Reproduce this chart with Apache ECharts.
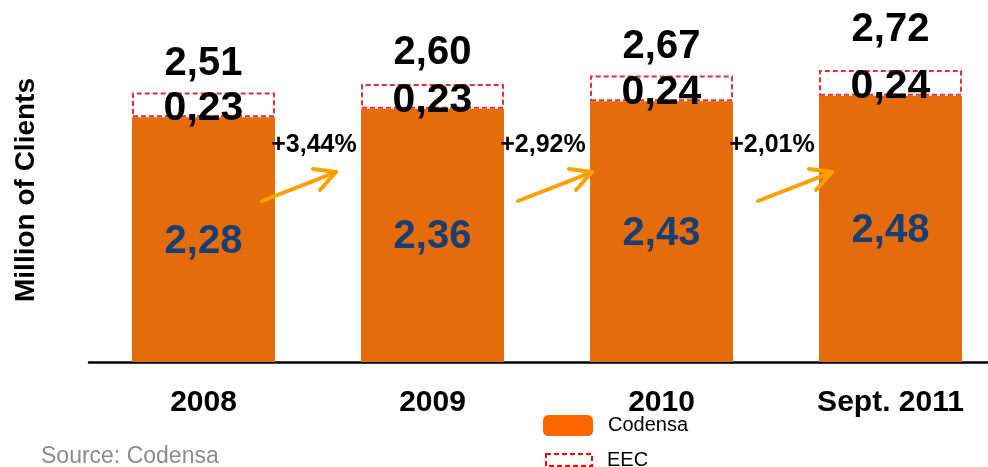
<!DOCTYPE html>
<html>
<head>
<meta charset="utf-8">
<title>Million of Clients</title>
<script src="https://cdn.jsdelivr.net/npm/echarts@6/dist/echarts.min.js"></script>
<style>
  html, body { margin: 0; padding: 0; background: #fff; }
  #chart { width: 988px; height: 467px; }
</style>
</head>
<body>
<div id="chart"></div>
<script>
  // values (millions of clients)
  const years = ['2008', '2009', '2010', 'Sept. 2011']
  const codensa = [2.28, 2.36, 2.43, 2.48]
  const eec = [0.23, 0.23, 0.24, 0.24]
  const totals = [2.51, 2.60, 2.67, 2.72]
  const growth = ['+3,44%', '+2,92%', '+2,01%']

  // label nudges (layout only)
  const totalLift = [0, 1, -1, 11]
  const arrowShift = [-56, -29, -18]

  const fmt = v => v.toFixed(2).replace('.', ',')
  const font = '"Liberation Sans", Arial, sans-serif'

  const chart = echarts.init(document.getElementById('chart'))

  const totalLabel = {
    show: true,
    position: 'top',
    formatter: p => fmt(p.value),
    fontSize: 40,
    fontWeight: 'bold',
    color: '#000',
    fontFamily: font
  }

  const legendText = { fontSize: 20, color: '#000', fontFamily: font, padding: [0, 0, 0, 10] }

  const option = {
    animation: false,
    textStyle: { fontFamily: font },
    title: {
      text: 'Source: Codensa',
      left: 36,
      top: 440,
      textStyle: { fontSize: 23, fontWeight: 'normal', color: '#8c8c8c', fontFamily: font }
    },
    legend: [
      {
        left: 543,
        top: 415,
        padding: 0,
        itemWidth: 50,
        itemHeight: 21,
        textStyle: legendText,
        data: [{ name: 'Codensa', icon: 'roundRect', itemStyle: { color: '#ff6600' } }]
      },
      {
        left: 545,
        top: 450,
        padding: 0,
        itemWidth: 46,
        itemHeight: 12,
        textStyle: legendText,
        data: [{ name: 'EEC', icon: 'rect', itemStyle: { color: '#fff', borderColor: '#ff0000', borderWidth: 2, borderType: [5, 3] } }]
      }
    ],
    grid: { left: 89, width: 916, top: 40, bottom: 105, outerBoundsMode: 'none', containLabel: false },
    xAxis: {
      type: 'category',
      data: years,
      axisLine: { lineStyle: { color: '#000', width: 2.5 } },
      axisTick: { show: false },
      axisLabel: { fontSize: 30, fontWeight: 'bold', color: '#000', margin: 26, fontFamily: font }
    },
    yAxis: {
      type: 'value',
      min: 0,
      max: 3,
      show: false
    },
    series: [
      {
        name: 'Total',
        type: 'bar',
        barWidth: 143,
        barGap: '-100%',
        itemStyle: { color: 'transparent' },
        data: totals.map((v, i) => ({
          value: v,
          label: Object.assign({}, totalLabel, { distance: 9 + totalLift[i] })
        })),
        label: totalLabel,
        silent: true,
        z: 1
      },
      {
        name: 'Codensa',
        type: 'bar',
        stack: 'clients',
        barWidth: 143,
        data: codensa,
        itemStyle: { color: '#e46c0a' },
        label: {
          show: true,
          position: 'inside',
          offset: [0, 2],
          formatter: p => fmt(p.value),
          fontSize: 40,
          fontWeight: 'bold',
          color: '#173f73',
          fontFamily: font
        },
        z: 2
      },
      {
        name: 'EEC',
        type: 'bar',
        stack: 'clients',
        barWidth: 143,
        data: eec,
        itemStyle: { color: '#fff', borderColor: '#e03232', borderWidth: 2, borderType: [5, 3] },
        label: {
          show: true,
          position: 'inside',
          offset: [0, 4],
          formatter: p => fmt(p.value),
          fontSize: 41,
          fontWeight: 'bold',
          color: '#000',
          fontFamily: font
        },
        z: 3
      }
    ]
  }

  chart.setOption(option)

  // growth arrows and percentages between bars
  const px = (cat, val) => chart.convertToPixel({ xAxisIndex: 0, yAxisIndex: 0 }, [cat, val])
  const graphics = []
  growth.forEach((g, i) => {
    const a = px(i, 0)
    const b = px(i + 1, 0)
    const mid = (a[0] + b[0]) / 2
    const yText = px(0, 2.02)[1]
    const yTail = px(0, 1.5)[1]
    const yHead = px(0, 1.77)[1]
    const tx = mid + arrowShift[i]
    const hx = tx + 74
    graphics.push({
      type: 'text',
      x: mid - 4,
      y: yText,
      style: {
        text: g,
        fontSize: 25,
        fontWeight: 'bold',
        fill: '#000',
        fontFamily: font,
        align: 'center',
        verticalAlign: 'middle'
      },
      z: 10
    })
    const arrowStyle = { stroke: '#ffa000', lineWidth: 4, lineCap: 'round' }
    graphics.push({
      type: 'polyline',
      shape: { points: [[tx, yTail], [hx, yHead]] },
      style: arrowStyle,
      z: 10
    })
    graphics.push({
      type: 'polyline',
      shape: { points: [[hx - 23, yHead - 3], [hx, yHead], [hx - 16, yHead + 18]] },
      style: Object.assign({ fill: 'none', lineJoin: 'round' }, arrowStyle),
      z: 10
    })
  })

  graphics.push({
    type: 'text',
    x: 26,
    y: 190,
    rotation: Math.PI / 2,
    style: {
      text: 'Million of Clients',
      fontSize: 28,
      fontWeight: 'bold',
      fill: '#000',
      fontFamily: font,
      align: 'center',
      verticalAlign: 'middle'
    }
  })

  chart.setOption({ graphic: graphics })
</script>
</body>
</html>
